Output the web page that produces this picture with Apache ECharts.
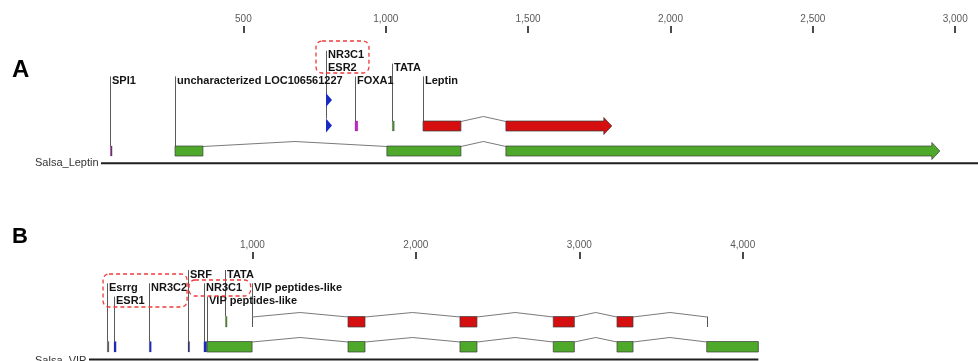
<!DOCTYPE html>
<html><head><meta charset="utf-8">
<script src="https://cdn.jsdelivr.net/npm/echarts@6/dist/echarts.min.js"></script>
<style>html,body{margin:0;padding:0;background:#fff}#c{width:978px;height:361px}</style>
</head><body><div id="c"></div>
<script>
// ---------------- DATA: panel A (Salsa_Leptin) ----------------
const leptinTicks = [500, 1000, 1500, 2000, 2500, 3000];
const leptinLength = 3100;
const leptinGeneName = 'uncharacterized LOC106561227';
const leptinGeneExons = [[260, 358], [1004, 1264], [1422, 2946]];
const leptinCdsName = 'Leptin';
const leptinCdsExons = [[1131, 1264], [1422, 1794]];
const leptinSiteNames = ['SPI1', 'NR3C1', 'ESR2', 'FOXA1', 'TATA'];
const leptinSiteStart = [33, 789, 789, 892, 1023];
const leptinSiteEnd = [39, 790, 790, 902, 1030];
const leptinHighlight = [[755, 941]];

// ---------------- DATA: panel B (Salsa_VIP) ----------------
const vipTicks = [1000, 2000, 3000, 4000];
const vipLength = 4096;
const vipGeneName = 'VIP peptides-like';
const vipGeneExons = [[722, 998], [1585, 1689], [2270, 2374], [2841, 2970], [3231, 3329], [3780, 4096]];
const vipCdsName = 'VIP peptides-like';
const vipCdsExons = [[1000, 1000], [1585, 1689], [2270, 2374], [2841, 2970], [3231, 3329], [3782, 3782]];
const vipSiteNames = ['Esrrg', 'ESR1', 'NR3C2', 'SRF', 'NR3C1', 'TATA'];
const vipSiteStart = [112, 153, 369, 606, 703, 835];
const vipSiteEnd = [121, 166, 381, 615, 720, 845];
const vipHighlight = [[86, 600], [612, 989]];

// ---------------- LAYOUT / STYLE ----------------
const GREEN = '#4ea82a', RED = '#d50f0f', BLUE = '#1a2bc4';
const layoutA = {
  rows: [54.8, 67.6, 80.4],
  tracks: { extra: [93, 107], extra2: [118.5, 132.5], cds: [121, 131], gene: [146, 156] },
  baseline: 163.3, rise: 5, arrow: true,
  geneRow: 2, cdsRow: 2,
  siteRow: [2, 0, 1, 2, 1],
  siteTrack: ['gene', 'extra', 'extra2', 'cds', 'cds'],
  siteShape: ['rect', 'tri', 'tri', 'rect', 'rect'],
  siteColor: ['#7b2a86', BLUE, BLUE, '#cc22cc', '#4f8a36'],
  boxY: [[41, 73]]
};
const layoutB = {
  rows: [274, 287.3, 300.6],
  tracks: { cds: [316.5, 327], gene: [341.5, 352] },
  baseline: 359.5, rise: 4.5, arrow: false,
  geneRow: 2, cdsRow: 1,
  siteRow: [1, 2, 1, 0, 1, 0],
  siteTrack: ['gene', 'gene', 'gene', 'gene', 'gene', 'cds'],
  siteShape: ['rect', 'rect', 'rect', 'rect', 'rect', 'rect'],
  siteColor: ['#555555', BLUE, BLUE, '#2b3470', BLUE, '#4f8a36'],
  boxY: [[274, 307], [280, 296]]
};
const LABEL_FONT = 'bold 11px "Liberation Sans", Arial, sans-serif';

function fmt(v) { return v.toLocaleString('en-US'); }

function buildPanel(gi, d, L) {
  const base = { type: 'custom', xAxisIndex: gi, yAxisIndex: gi, coordinateSystem: 'cartesian2d',
    clip: false, silent: true, animation: false };
  const X = (api, v) => api.coord([v, 0])[0];
  const out = [];
  // baseline
  out.push(Object.assign({}, base, { data: [[0, d.length]], renderItem: (p, api) => {
    const x0 = X(api, api.value(0)), x1 = Math.min(X(api, api.value(1)), p.coordSys.x + p.coordSys.width);
    return { type: 'rect', shape: { x: x0, y: L.baseline - 1, width: x1 - x0, height: 2 }, style: { fill: '#1e1e1e' } };
  }}));
  // label leader lines + texts
  const labels = [];
  d.siteNames.forEach((n, i) => labels.push([d.siteStart[i], L.siteRow[i], L.tracks[L.siteTrack[i]][0], n]));
  labels.push([d.geneExons[0][0], L.geneRow, L.tracks.gene[0], d.geneName]);
  labels.push([d.cdsExons[0][0], L.cdsRow, L.tracks.cds[0], d.cdsName]);
  out.push(Object.assign({}, base, { data: labels.map(l => [l[0], l[1], l[2]]), renderItem: (p, api) => {
    const x = Math.round(X(api, api.value(0))) + 0.5;
    const ry = L.rows[api.value(1)];
    return { type: 'line', shape: { x1: x, y1: ry - 4, x2: x, y2: api.value(2) },
      style: { stroke: '#5a5a5a', lineWidth: 1 } };
  }}));
  // introns
  function introns(exons, track) {
    const pairs = [];
    for (let i = 1; i < exons.length; i++) pairs.push([exons[i - 1][1], exons[i][0]]);
    out.push(Object.assign({}, base, { data: pairs, renderItem: (p, api) => {
      const xa = X(api, api.value(0)), xb = X(api, api.value(1));
      const y = track[0] + 0.5;
      return { type: 'polyline', shape: { points: [[xa, y], [(xa + xb) / 2, y - L.rise], [xb, y]] },
        style: { stroke: '#7a7a7a', lineWidth: 1, fill: null } };
    }}));
  }
  introns(d.geneExons, L.tracks.gene);
  introns(d.cdsExons, L.tracks.cds);
  // exons
  function exons(list, track, color) {
    out.push(Object.assign({}, base, { data: list.map((e, i) => [e[0], e[1], (L.arrow && i === list.length - 1) ? 1 : 0]),
      renderItem: (p, api) => {
        const x0 = X(api, api.value(0)), x1 = X(api, api.value(1));
        const t = track[0], b = track[1];
        if (x1 - x0 < 1) {
          const x = Math.round(x0) + 0.5;
          return { type: 'line', shape: { x1: x, y1: t, x2: x, y2: b }, style: { stroke: '#555', lineWidth: 1 } };
        }
        const st = { fill: color, stroke: '#3c3c3c', lineWidth: 0.7 };
        if (api.value(2)) {
          const h = 8, m = (t + b) / 2, o = 3.5;
          return { type: 'polygon', shape: { points: [[x0, t], [x1 - h, t], [x1 - h, t - o], [x1, m], [x1 - h, b + o], [x1 - h, b], [x0, b]] }, style: st };
        }
        return { type: 'rect', shape: { x: x0, y: t, width: x1 - x0, height: b - t }, style: st };
      }}));
  }
  exons(d.geneExons, L.tracks.gene, GREEN);
  exons(d.cdsExons, L.tracks.cds, RED);
  // sites
  out.push(Object.assign({}, base, { data: d.siteNames.map((n, i) => [d.siteStart[i], d.siteEnd[i], i]),
    renderItem: (p, api) => {
      const i = api.value(2);
      const tr = L.tracks[L.siteTrack[i]];
      const x0 = X(api, api.value(0)), x1 = X(api, api.value(1));
      const c = L.siteColor[i];
      if (L.siteShape[i] === 'tri') {
        const x = Math.round(x0);
        return { type: 'polygon', shape: { points: [[x, tr[0]], [x + 6, (tr[0] + tr[1]) / 2], [x, tr[1]]] }, style: { fill: c } };
      }
      return { type: 'rect', shape: { x: x0, y: tr[0], width: Math.max(x1 - x0, 1.6), height: tr[1] - tr[0] },
        style: { fill: c, stroke: 'rgba(40,40,40,0.5)', lineWidth: 0.4 } };
    }}));
  // label texts
  out.push(Object.assign({}, base, { data: labels.map(l => [l[0], l[1], l[2]]), renderItem: (p, api) => {
    const idx = p.dataIndex;
    const x = Math.round(X(api, api.value(0))) + 2;
    return { type: 'text', style: { text: labels[idx][3], x: x, y: L.rows[api.value(1)] + 0.5,
      font: LABEL_FONT, fill: '#141414', verticalAlign: 'middle', align: 'left' } };
  }}));
  // highlight boxes
  out.push(Object.assign({}, base, { data: d.highlight.map((h, i) => [h[0], h[1], i]), renderItem: (p, api) => {
    const x0 = X(api, api.value(0)), x1 = X(api, api.value(1));
    const yy = L.boxY[api.value(2)];
    return { type: 'rect', shape: { x: x0, y: yy[0], width: x1 - x0, height: yy[1] - yy[0], r: 6 },
      style: { fill: null, stroke: '#f03a3a', lineWidth: 1.3, lineDash: [4, 3] } };
  }}));
  return out;
}

function xAxisFor(gi, max, interval, ticks) {
  return { gridIndex: gi, type: 'value', position: 'top', min: 0, max: max, interval: interval,
    axisLine: { show: false, onZero: false }, splitLine: { show: false },
    axisTick: { show: true, customValues: ticks, length: 7, lineStyle: { color: '#4a4a4a', width: 2 } },
    axisLabel: { show: true, customValues: ticks, margin: 9, color: '#5a5a5a', fontSize: 10,
      fontFamily: '"Liberation Sans", Arial, sans-serif', formatter: fmt } };
}

const dataA = { length: leptinLength, geneName: leptinGeneName, geneExons: leptinGeneExons, cdsName: leptinCdsName,
  cdsExons: leptinCdsExons, siteNames: leptinSiteNames, siteStart: leptinSiteStart, siteEnd: leptinSiteEnd, highlight: leptinHighlight };
const dataB = { length: vipLength, geneName: vipGeneName, geneExons: vipGeneExons, cdsName: vipCdsName,
  cdsExons: vipCdsExons, siteNames: vipSiteNames, siteStart: vipSiteStart, siteEnd: vipSiteEnd, highlight: vipHighlight };

const chart = echarts.init(document.getElementById('c'), null, { renderer: 'canvas' });
chart.setOption({
  animation: false,
  backgroundColor: '#ffffff',
  grid: [
    { left: 101, right: 0, top: 33, height: 137 },
    { left: 89, right: 0, top: 259, height: 102 }
  ],
  xAxis: [xAxisFor(0, 3080, 500, leptinTicks), xAxisFor(1, 5440, 1000, vipTicks)],
  yAxis: [
    { gridIndex: 0, type: 'value', min: 0, max: 1, show: false },
    { gridIndex: 1, type: 'value', min: 0, max: 1, show: false }
  ],
  graphic: [
    { type: 'text', left: 12, top: 58, style: { text: 'A', font: 'bold 24px "Liberation Sans", Arial, sans-serif', fill: '#000' } },
    { type: 'text', left: 12, top: 226, style: { text: 'B', font: 'bold 22px "Liberation Sans", Arial, sans-serif', fill: '#000' } },
    { type: 'text', left: 35, top: 157, style: { text: 'Salsa_Leptin', font: '11px "Liberation Sans", Arial, sans-serif', fill: '#333' } },
    { type: 'text', left: 35, top: 355, style: { text: 'Salsa_VIP', font: '11px "Liberation Sans", Arial, sans-serif', fill: '#333' } }
  ],
  series: [].concat(buildPanel(0, dataA, layoutA), buildPanel(1, dataB, layoutB))
});
</script>
</body></html>
